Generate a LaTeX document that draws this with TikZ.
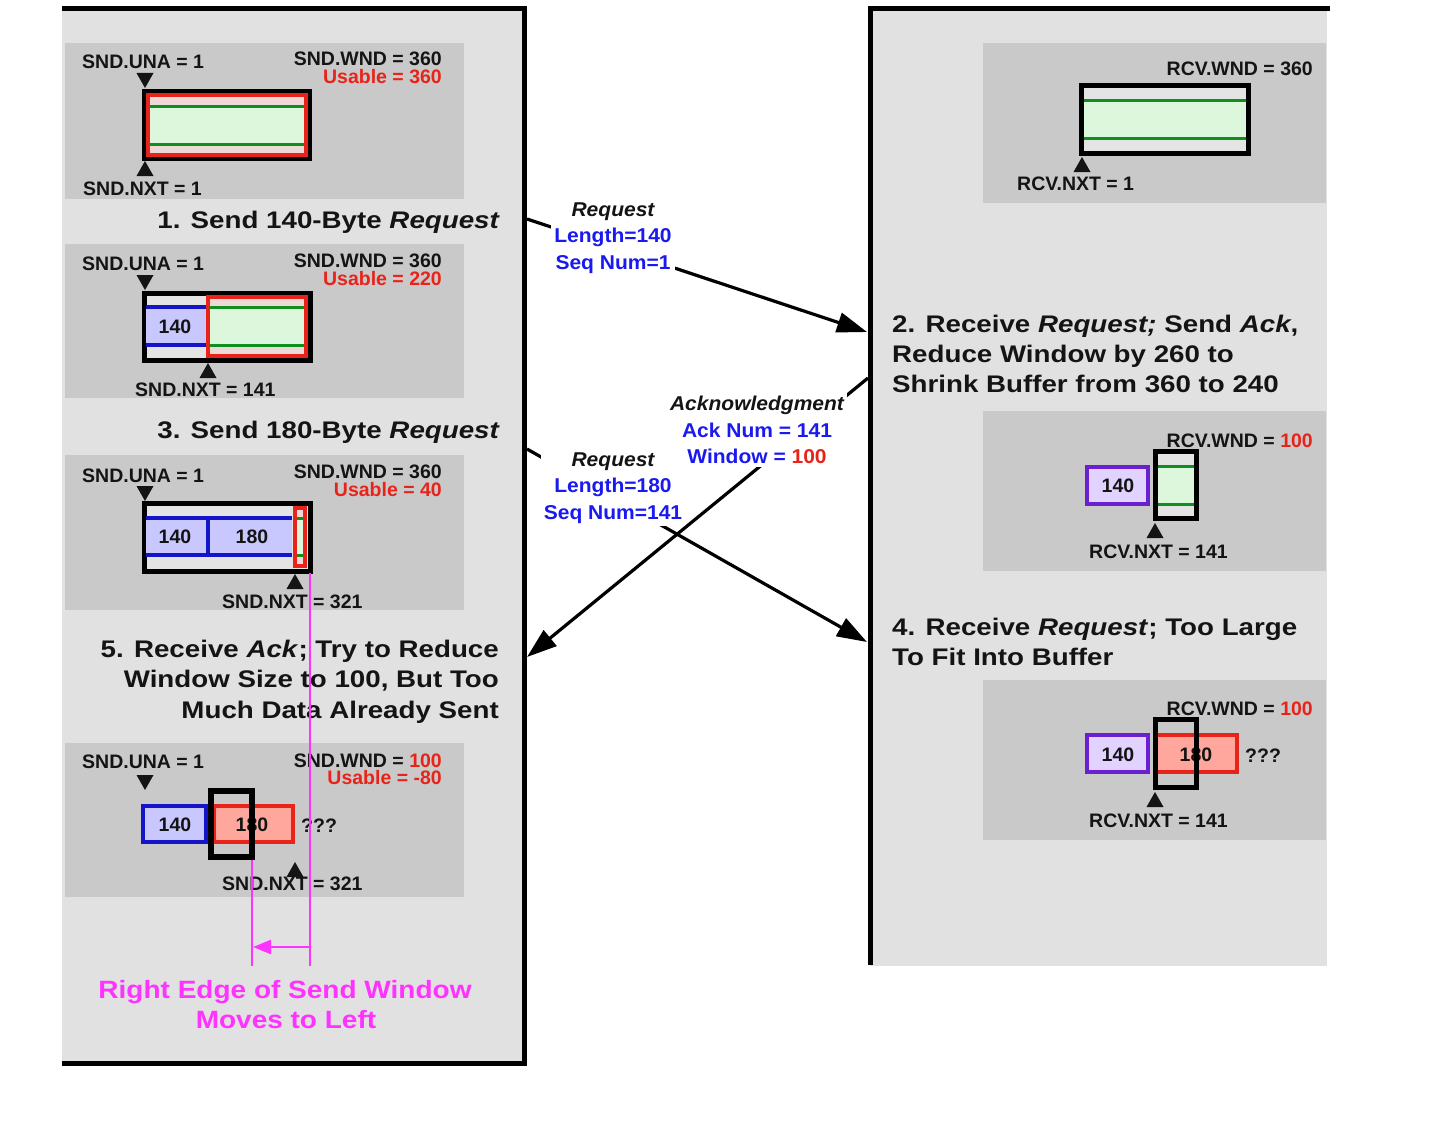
\documentclass[tikz,border=0pt]{standalone}
\usepackage{fontspec}
\setmainfont{Liberation Sans}
\newfontfamily\capfam[FakeStretch=1.155]{Liberation Sans}
\newfontfamily\notefam[FakeStretch=1.12]{Liberation Sans}
\newfontfamily\msgfam[FakeStretch=1.05]{Liberation Sans}
\usetikzlibrary{arrows.meta}

\definecolor{panel}{HTML}{E1E1E1}
\definecolor{inset}{HTML}{C9C9C9}
\definecolor{winfill}{HTML}{E4E4E4}
\definecolor{usefill}{HTML}{EED8D8}
\definecolor{freefill}{HTML}{DDF7DD}
\definecolor{grn}{HTML}{0E8F1E}
\definecolor{wred}{HTML}{E8231A}
\definecolor{sentfill}{HTML}{C8C8FF}
\definecolor{sentblue}{HTML}{1414C8}
\definecolor{rcvfill}{HTML}{E2D2FF}
\definecolor{rcvpurple}{HTML}{6A1FD0}
\definecolor{overfill}{HTML}{FFA79C}
\definecolor{mag}{HTML}{FF33FF}
\definecolor{lblue}{HTML}{1A1AF0}
\definecolor{ink}{HTML}{141414}

\tikzset{
  lbl/.style={font=\fontsize{19.5}{22}\selectfont\bfseries, text=ink, inner sep=0pt},
  capt/.style={font=\capfam\fontsize{24}{30}\selectfont\bfseries, text=ink, inner sep=0pt},
  msg/.style={font=\msgfam\fontsize{20}{26.5}\selectfont\bfseries, fill=white, align=center, inner sep=3pt, text=lblue},
  edgenote/.style={font=\notefam\fontsize{25}{30}\selectfont\bfseries, text=mag, inner sep=0pt},
  frame/.style={line width=5pt, line join=miter},
  winbox/.style={draw=black, line width=5pt, fill=winfill},
  usebox/.style={draw=wred, line width=4pt, fill=usefill},
  freearea/.style={fill=freefill},
  freeline/.style={draw=grn, line width=3pt},
  sentarea/.style={fill=sentfill},
  sentline/.style={draw=sentblue, line width=3.5pt},
  sentseg/.style={draw=sentblue, line width=4pt, fill=sentfill},
  rcvseg/.style={draw=rcvpurple, line width=4pt, fill=rcvfill},
  overseg/.style={draw=wred, line width=4pt, fill=overfill},
  limitbox/.style={draw=black, line width=5.5pt},
  msgarrow/.style={line width=3.2pt, -{Triangle[length=30pt,width=20pt]}},
  edgeline/.style={draw=mag, line width=2pt},
  dntri/.pic={\fill[ink] (-8.5,-15) -- (8.5,-15) -- (0,0) -- cycle;},
  uptri/.pic={\fill[ink] (-8.5,15) -- (8.5,15) -- (0,0) -- cycle;},
}

\begin{document}
\begin{tikzpicture}[x=1pt, y=-1pt]
\useasboundingbox (0,0) rectangle (1443,1148);
\fill[white] (0,0) rectangle (1443,1148);

% ---------- sender panel ----------
\fill[panel] (62,9) rectangle (524,1063);

% step 1 window
\fill[inset] (65,43) rectangle (464,199);
\node[lbl, anchor=base west] (a-una) at (82,69) {SND.UNA = 1};
\node[lbl, anchor=base east] (a-wnd) at (442,66) {SND.WND = 360};
\node[lbl, anchor=base east, text=wred] (a-use) at (442,84) {Usable = 360};
\draw[winbox] (144,91) rectangle (309,158);
\draw[usebox] (148,95) rectangle (306,155);
\fill[freearea] (150,106) rectangle (304,144);
\draw[freeline] (150,106) -- (304,106) (150,144) -- (304,144);
\pic at (145,88) {dntri};
\pic at (145,161) {uptri};
\node[lbl, anchor=base west] (a-nxt) at (83,195) {SND.NXT = 1};
\node[capt, anchor=base east] (cap1) at (500,228) {1. Send 140-Byte \textit{Request}};

% step 3 window (after first send)
\fill[inset] (65,244) rectangle (464,398);
\node[lbl, anchor=base west] (b-una) at (82,270) {SND.UNA = 1};
\node[lbl, anchor=base east] (b-wnd) at (442,267) {SND.WND = 360};
\node[lbl, anchor=base east, text=wred] (b-use) at (442,285) {Usable = 220};
\draw[winbox] (144,293) rectangle (310,360);
\fill[sentarea] (146,307) rectangle (206,345);
\draw[sentline] (146,307) -- (206,307) (146,345) -- (206,345);
\node[lbl] (b-140) at (175,327) {140};
\draw[usebox] (208,297) rectangle (306,356);
\fill[freearea] (210,307) rectangle (304,345);
\draw[freeline] (210,307) -- (304,307) (210,345) -- (304,345);
\pic at (145,290) {dntri};
\pic at (208,363) {uptri};
\node[lbl, anchor=base west] (b-nxt) at (135,396) {SND.NXT = 141};
\node[capt, anchor=base east] (cap3) at (500,438) {3. Send 180-Byte \textit{Request}};

% after second send
\fill[inset] (65,455) rectangle (464,610);
\node[lbl, anchor=base west] (c-una) at (82,482) {SND.UNA = 1};
\node[lbl, anchor=base east] (c-wnd) at (442,478) {SND.WND = 360};
\node[lbl, anchor=base east, text=wred] (c-use) at (442,496) {Usable = 40};
\draw[winbox] (144,503) rectangle (310,571);
\fill[sentarea] (146,518) rectangle (292,555);
\draw[sentline] (146,518) -- (292,518) (146,555) -- (292,555) (208,518) -- (208,555);
\node[lbl] (c-140) at (175,537) {140};
\node[lbl] (c-180) at (252,537) {180};
\draw[usebox] (294.5,508) rectangle (305,566);
\fill[freearea] (297,518) rectangle (302.5,555);
\draw[freeline] (297,518) -- (302.5,518) (297,555) -- (302.5,555);
\pic at (145,501) {dntri};
\pic at (295,574) {uptri};
\node[lbl, anchor=base west] (c-nxt) at (222,608) {SND.NXT = 321};

\node[capt, anchor=base east] (cap5a) at (499,657) {5. Receive \textit{Ack}; Try to Reduce};
\node[capt, anchor=base east] (cap5b) at (499,687) {Window Size to 100, But Too};
\node[capt, anchor=base east] (cap5c) at (499,718) {Much Data Already Sent};

% step 5 window
\fill[inset] (65,743) rectangle (464,897);
\node[lbl, anchor=base west] (d-una) at (82,768) {SND.UNA = 1};
\node[lbl, anchor=base east] (d-wnd) at (442,767) {SND.WND = \textcolor{wred}{100}};
\node[lbl, anchor=base east, text=wred] (d-use) at (442,784) {Usable = -80};
\pic at (145,790) {dntri};
\draw[sentseg] (143,806) rectangle (206,842);
\draw[overseg] (214,806) rectangle (293,842);
\node[lbl] (d-140) at (175,825) {140};
\node[lbl] (d-180) at (252,825) {180};
\draw[limitbox] (211,791) rectangle (252,857);
\node[lbl, anchor=base west] (d-q) at (301,832) {???};
\pic at (295,862) {uptri};
\node[lbl, anchor=base west] (d-nxt) at (222,890) {SND.NXT = 321};

% right edge of the send window moving left
\coordinate (edge-old) at (310,573);
\coordinate (edge-old-end) at (310,966);
\coordinate (edge-new) at (252,860);
\coordinate (edge-new-end) at (252,966);
\coordinate (shift-from) at (310,947);
\coordinate (shift-to) at (253,947);
\draw[edgeline, line width=2.5pt, -{Triangle[length=18pt,width=14pt]}] (shift-from) -- (shift-to);
\node[edgenote, anchor=base] (note1) at (285,998) {Right Edge of Send Window};
\node[edgenote, anchor=base] (note2) at (286,1028) {Moves to Left};

\draw[frame] (62,8.5) -- (524,8.5) -- (524,1063) -- (62,1063);

% ---------- receiver panel ----------
\fill[panel] (870,9) rectangle (1327,966);

% initial receive window
\fill[inset] (983,43) rectangle (1326,203);
\node[lbl, anchor=base east] (r1-wnd) at (1313,75) {RCV.WND = 360};
\draw[winbox] (1081,85) rectangle (1248,153);
\fill[freearea] (1084,100) rectangle (1246,138);
\draw[freeline] (1084,100) -- (1246,100) (1084,138) -- (1246,138);
\pic at (1082,157) {uptri};
\node[lbl, anchor=base west] (r1-nxt) at (1017,190) {RCV.NXT = 1};

\node[capt, anchor=base west] (cap2a) at (892,332) {2. Receive \textit{Request;} Send \textit{Ack},};
\node[capt, anchor=base west] (cap2b) at (892,362) {Reduce Window by 260 to};
\node[capt, anchor=base west] (cap2c) at (892,392) {Shrink Buffer from 360 to 240};

% shrunk receive window
\fill[inset] (983,411) rectangle (1326,571);
\node[lbl, anchor=base east] (r2-wnd) at (1313,447) {RCV.WND = \textcolor{wred}{100}};
\draw[rcvseg] (1087,467) rectangle (1148,504);
\node[lbl] (r2-140) at (1118,486) {140};
\draw[winbox] (1155,451) rectangle (1196.5,518.5);
\fill[freearea] (1157.5,466) rectangle (1194,504);
\draw[freeline] (1157.5,466) -- (1194,466) (1157.5,504) -- (1194,504);
\pic at (1155,523) {uptri};
\node[lbl, anchor=base west] (r2-nxt) at (1089,558) {RCV.NXT = 141};

\node[capt, anchor=base west] (cap4a) at (892,635) {4. Receive \textit{Request}; Too Large};
\node[capt, anchor=base west] (cap4b) at (892,665) {To Fit Into Buffer};

% oversized segment arrives
\fill[inset] (983,680) rectangle (1326,840);
\node[lbl, anchor=base east] (r3-wnd) at (1313,715) {RCV.WND = \textcolor{wred}{100}};
\draw[rcvseg] (1087,735) rectangle (1148,772);
\draw[overseg] (1155,735) rectangle (1237,772);
\node[lbl] (r3-140) at (1118,755) {140};
\node[lbl] (r3-180) at (1196,755) {180};
\draw[limitbox] (1155.5,719.5) rectangle (1196.5,787.5);
\node[lbl, anchor=base west] (r3-q) at (1245,762) {???};
\pic at (1155,792) {uptri};
\node[lbl, anchor=base west] (r3-nxt) at (1089,827) {RCV.NXT = 141};

\draw[frame] (1330,9) -- (870,9) -- (870,965);

% ---------- segments exchanged ----------
\coordinate (snd-req1) at (527,219);
\coordinate (rcv-req1) at (867,332);
\coordinate (rcv-ack) at (868,378);
\coordinate (snd-ack) at (527,657);
\coordinate (snd-req2) at (527,449);
\coordinate (rcv-req2) at (867,642);

\draw[msgarrow] (snd-req1) -- (rcv-req1);
\draw[msgarrow] (rcv-ack) -- (snd-ack);
\draw[msgarrow] (snd-req2) -- (rcv-req2);

\node[msg] (m-req1) at (613,238) {{\color{ink}\itshape Request}\\Length=140\\Seq Num=1};
\node[msg] (m-ack) at (757,430) {{\color{ink}\itshape Acknowledgment}\\Ack Num = 141\\Window = \textcolor{wred}{100}};
\node[msg] (m-req2) at (613,488) {{\color{ink}\itshape Request}\\Length=180\\Seq Num=141};

% window edges, drawn over the captions they cross
\draw[edgeline] (edge-old) -- (edge-old-end);
\draw[edgeline] (edge-new) -- (edge-new-end);
\end{tikzpicture}
\end{document}
